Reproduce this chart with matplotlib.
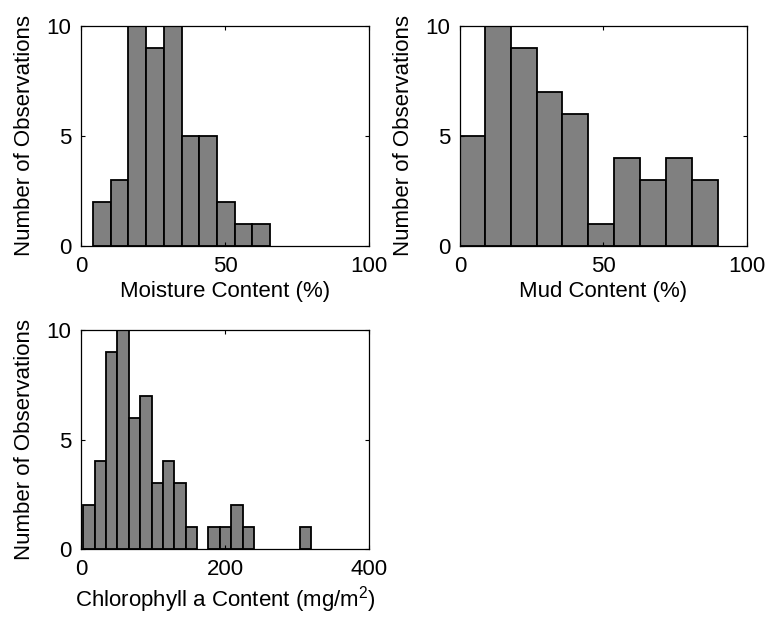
import numpy as np
import matplotlib
matplotlib.use('Agg')
import matplotlib.pyplot as plt

# font / style setup
plt.rcParams['font.family'] = ['Liberation Sans', 'DejaVu Sans']
plt.rcParams['mathtext.fontset'] = 'custom'
plt.rcParams['mathtext.rm'] = 'Liberation Sans'
plt.rcParams['mathtext.default'] = 'regular'
plt.rcParams['font.size'] = 16

# histogram counts (10, 10 and 20 equal bins)
moisture_counts = [2, 3, 10, 9, 10, 5, 5, 2, 1, 1]
moisture_range = (4.2, 65.7)

mud_counts = [5, 10, 9, 7, 6, 1, 4, 3, 4, 3]
mud_range = (-0.4, 89.8)

chl_counts = [2, 4, 9, 10, 6, 7, 3, 4, 3, 1, 0, 1, 1, 2, 1, 0, 0, 0, 0, 1]
chl_range = (3.2, 319.4)

xticks_pct = [0, 50, 100]
xticks_chl = [0, 200, 400]
yticks = [0, 5, 10]

fig = plt.figure(figsize=(7.66, 6.21), dpi=100)

panels = [
    ([0.1057, 0.6039, 0.376, 0.3543], moisture_counts, moisture_range,
     xticks_pct, 'Moisture Content (%)'),
    ([0.6005, 0.6039, 0.3747, 0.3543], mud_counts, mud_range,
     xticks_pct, 'Mud Content (%)'),
    ([0.1057, 0.1159, 0.376, 0.3527], chl_counts, chl_range,
     xticks_chl, 'Chlorophyll a Content (mg/m$^2$)'),
]

for rect, counts, (lo, hi), xt, xlab in panels:
    ax = fig.add_axes(rect)
    edges = np.linspace(lo, hi, len(counts) + 1)
    n, bins, patches = ax.hist(edges[:-1], bins=edges, weights=counts,
                               color='#808080', edgecolor='black',
                               linewidth=1.3)
    # empty bins: no outline along the baseline
    for c, p in zip(n, patches):
        if c == 0:
            p.set_visible(False)
    ax.set_xlim(xt[0], xt[-1])
    ax.set_ylim(0, 10)
    ax.set_xticks(xt)
    ax.set_yticks(yticks)
    ax.tick_params(direction='in', length=3, width=0.8, top=True, right=True,
                   pad=7)
    for s in ax.spines.values():
        s.set_linewidth(0.9)
    ax.set_xlabel(xlab, labelpad=3)
    ax.set_ylabel('Number of Observations')
    ax.yaxis.set_label_coords(-0.16, 0.5)

fig.savefig('out.png', dpi=100)
